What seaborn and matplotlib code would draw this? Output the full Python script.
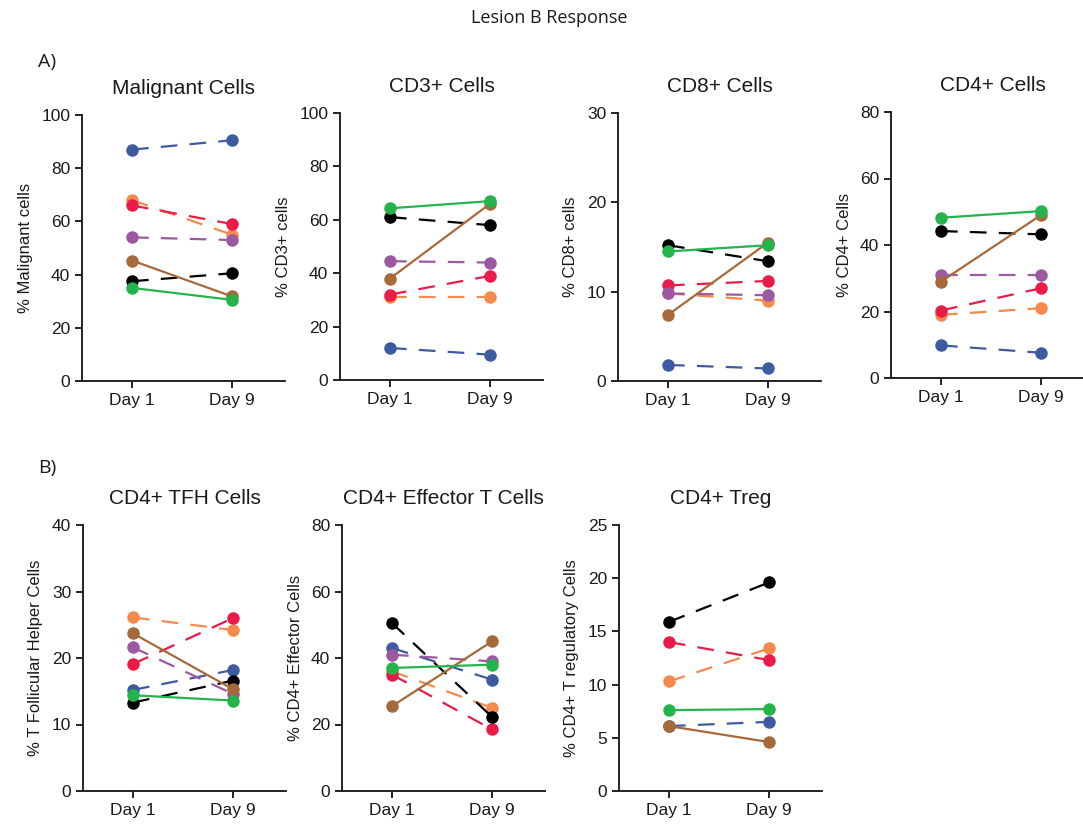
import numpy as np
import pandas as pd
import matplotlib
matplotlib.use("Agg")
import matplotlib.pyplot as plt
import seaborn as sns

sns.set_theme(style="ticks")
plt.rcParams['font.family'] = ['Liberation Sans', 'DejaVu Sans']

days = ["Day 1", "Day 9"]
series = ["blue", "orange", "red", "purple", "black", "brown", "green"]
colors = {"blue": "#3D5BA0", "orange": "#F68A4C", "red": "#EB1B48", "purple": "#9C58A0",
          "black": "#000000", "brown": "#A5693A", "green": "#25B34C"}
solid = {"brown", "green"}

titles = ["Malignant Cells", "CD3+ Cells", "CD8+ Cells", "CD4+ Cells",
          "CD4+ TFH Cells", "CD4+ Effector T Cells", "CD4+ Treg"]
ylabels = ["% Malignant cells", "% CD3+ cells", "% CD8+ cells", "% CD4+ Cells",
           "% T Follicular Helper Cells", "% CD4+ Effector Cells", "% CD4+ T regulatory Cells"]
ymax = [100, 100, 30, 80, 40, 80, 25]
ystep = [20, 20, 10, 20, 10, 20, 5]

# values per series: [Day 1, Day 9]
malignant = {"blue": [87, 90.5], "orange": [68, 55], "red": [66, 59], "purple": [54, 53],
             "black": [37.5, 40.5], "brown": [45.3, 31.8], "green": [35, 30.5]}
cd3 = {"blue": [12, 9.5], "orange": [31, 31], "red": [32, 39], "purple": [44.5, 44],
       "black": [61, 58], "brown": [38, 66], "green": [64.3, 67]}
cd8 = {"blue": [1.8, 1.4], "orange": [9.8, 9.0], "red": [10.7, 11.2], "purple": [9.8, 9.6],
       "black": [15.2, 13.4], "brown": [7.4, 15.5], "green": [14.5, 15.2]}
cd4 = {"blue": [9.8, 7.6], "orange": [19, 21], "red": [20.3, 27], "purple": [31, 31],
       "black": [44.2, 43.2], "brown": [29, 49], "green": [48.2, 50.2]}
tfh = {"blue": [15.2, 18.2], "orange": [26.1, 24.2], "red": [19.1, 26], "purple": [21.6, 14.6],
       "black": [13.3, 16.6], "brown": [23.7, 15.3], "green": [14.4, 13.6]}
effector = {"blue": [43, 33.5], "orange": [36, 25], "red": [35, 18.5], "purple": [41, 39],
            "black": [50.5, 22.3], "brown": [25.5, 45], "green": [37, 38]}
treg = {"blue": [6.1, 6.5], "orange": [10.3, 13.4], "red": [14, 12.3],
        "black": [15.9, 19.6], "brown": [6.1, 4.6], "green": [7.6, 7.7]}
panels = [malignant, cd3, cd8, cd4, tfh, effector, treg]

# axes placement in pixels: (x of y-axis, top, bottom)
W, H = 1083, 825
pos = [(82, 115, 381), (340, 113, 380), (618, 113, 381), (891, 112, 378),
       (83, 525, 791), (342, 525, 791), (619, 525, 791)]
axw = 203

fig = plt.figure(figsize=(W / 100, H / 100), dpi=100)
fig.patch.set_facecolor("white")

for i, data in enumerate(panels):
    x0, top, bot = pos[i]
    ax = fig.add_axes([x0 / W, 1 - bot / H, axw / W, (bot - top) / H])
    rows = []
    for s in series:
        if s in data:
            for d, v in enumerate(data[s]):
                rows.append({"series": s, "day": d, "value": v})
    df = pd.DataFrame(rows)
    present = [s for s in series if s in data]
    sns.lineplot(data=df, x="day", y="value", hue="series", style="series",
                 hue_order=present, style_order=present,
                 palette={s: colors[s] for s in present},
                 dashes={s: ("" if s in solid else (7.5, 5.5)) for s in present},
                 markers={s: "o" for s in present},
                 markersize=9, markeredgewidth=0, linewidth=1.6, legend=False, ax=ax)
    ax.set_xlim(-0.5, 1.53)
    ax.set_ylim(0, ymax[i])
    ax.set_yticks(np.arange(0, ymax[i] + 0.1, ystep[i]))
    ax.set_xticks([0, 1])
    ax.set_xticklabels(days)
    ax.set_xlabel("")
    ax.set_ylabel(ylabels[i], fontsize=12, color="#1a1a1a", labelpad=6)
    ax.set_title(titles[i], fontsize=15, color="#1a1a1a", pad=15)
    sns.despine(ax=ax)
    for sp in ["left", "bottom"]:
        ax.spines[sp].set_linewidth(1.4)
        ax.spines[sp].set_color("#222222")
    ax.tick_params(axis="both", labelsize=12.5, width=1.4, length=5, colors="#222222",
                   labelcolor="#1a1a1a")
    ax.set_facecolor("white")

fig.text(0.507, 1 - 18 / H, "Lesion B Response", ha="center", va="center",
         fontsize=13, family=["Open Sans", "DejaVu Sans"], color="#1a1a1a")
fig.text(38 / W, 1 - 62 / H, "A)", ha="left", va="center", fontsize=14,
         family=["Open Sans", "DejaVu Sans"], color="#1a1a1a")
fig.text(38 / W, 1 - 468 / H, "B)", ha="left", va="center", fontsize=14,
         family=["Open Sans", "DejaVu Sans"], color="#1a1a1a")

fig.savefig("out.png", dpi=100, facecolor="white")
